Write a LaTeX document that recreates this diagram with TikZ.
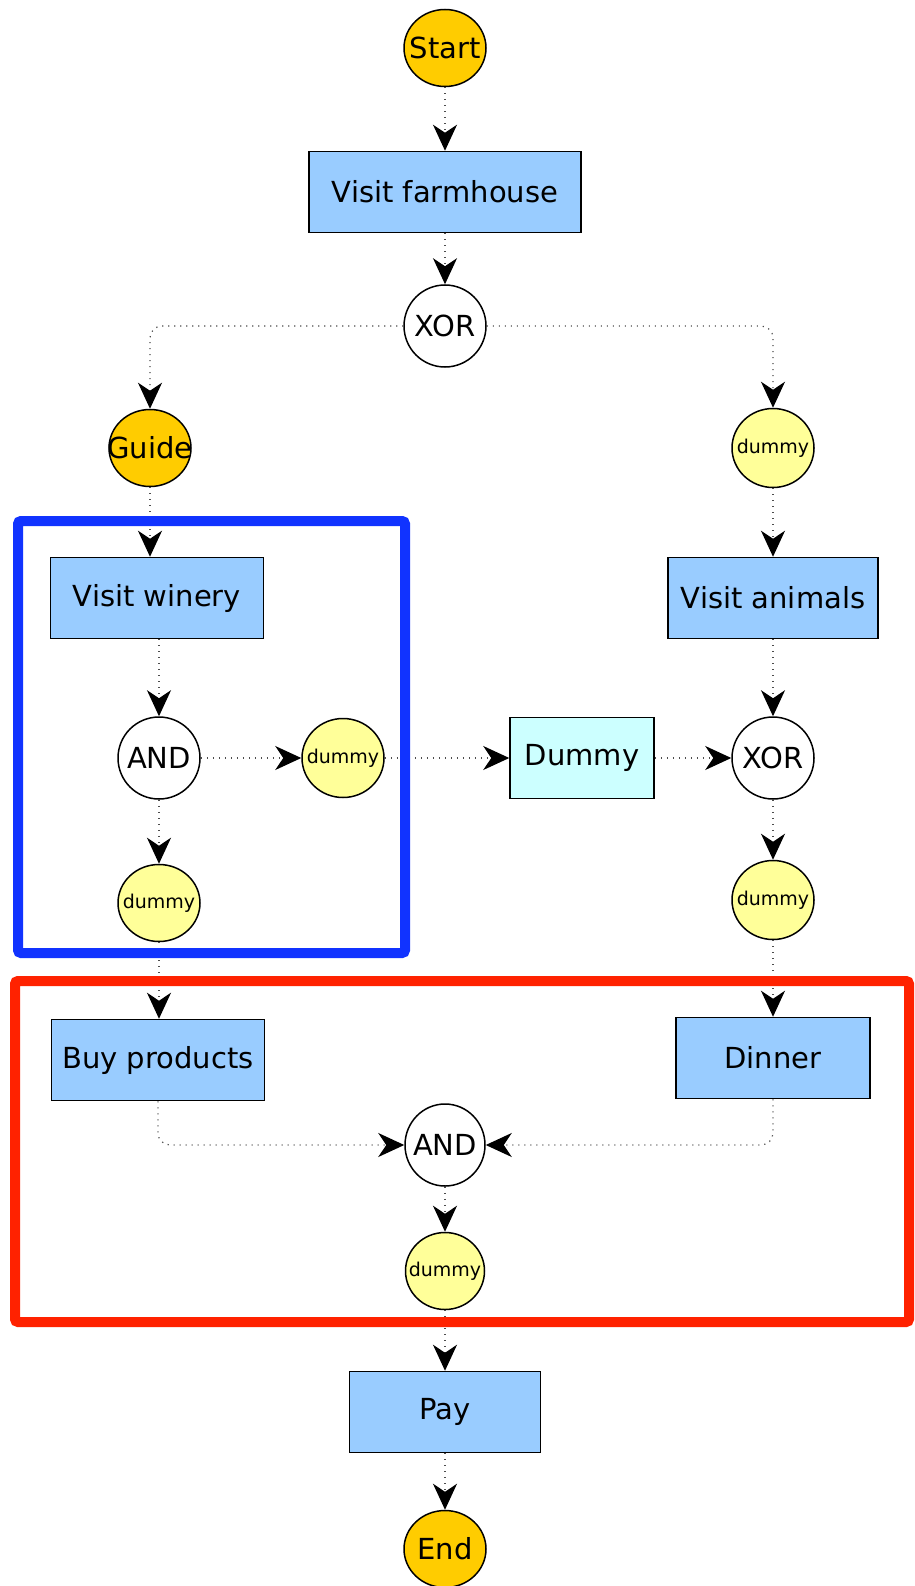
\documentclass[tikz,border=0pt]{standalone}
\usepackage{fontspec}
\setmainfont{DejaVu Sans}
\definecolor{TaskBlue}{RGB}{153, 204, 255}
\definecolor{DummyCyan}{RGB}{204, 255, 255}
\definecolor{EventGold}{RGB}{255, 204, 0}
\definecolor{DummyYellow}{RGB}{255, 255, 153}
\definecolor{FrameBlue}{RGB}{17, 51, 255}
\definecolor{FrameRed}{RGB}{255, 34, 0}
\usetikzlibrary{arrows.meta, positioning, shapes.geometric}
\newcommand{\centred}[1]{\makebox[0pt]{#1}}

\begin{document}
\begin{tikzpicture}[x=1pt, y=-1pt,
    task/.style={draw, line width=1.5pt, fill=TaskBlue, minimum width=#1,
      minimum height=81pt, inner sep=0pt, font=\fontsize{29}{34}\selectfont},
    evt/.style={ellipse, draw, line width=1.5pt, minimum width=82pt,
      minimum height=79pt, inner sep=0pt, font=\fontsize{29}{34}\selectfont},
    gate/.style={evt, fill=white, minimum height=82pt},
    terminal/.style={evt, fill=EventGold, minimum height=77pt},
    dum/.style={evt, fill=DummyYellow, font=\fontsize{19}{22}\selectfont},
    flow/.style={line width=1.2pt, black!70, dash pattern=on 1.2pt off 4.8pt,
      rounded corners=12pt, -{Stealth[length=26pt, width=24pt, inset=8pt, black]}},
    frame/.style={line width=10pt, rounded corners=3pt}
  ]
  \useasboundingbox (0,0) rectangle (914,1586);

  \node[terminal] (start) at (445,48) {\centred{Start}};
  \node[task=272pt] (farm) at (445,192) {Visit farmhouse};
  \node[gate] (xorTop) at (445,326) {\centred{XOR}};
  \node[terminal] (guide) at (150,448) {\centred{Guide}};
  \node[dum] (dumTop) at (773,448) {\centred{dummy}};
  \node[task=213pt] (winery) at (157,598) {Visit winery};
  \node[task=210pt] (animals) at (773,598) {Visit animals};
  \node[gate] (andLeft) at (159,758) {\centred{AND}};
  \node[dum] (dumMid) at (343,758) {\centred{dummy}};
  \node[dum, minimum height=77pt] (dumLeft) at (159,903) {\centred{dummy}};
  \node[task=144pt, fill=DummyCyan] (dummyTask) at (582,758) {Dummy};
  \node[gate] (xorRight) at (773,758) {\centred{XOR}};
  \node[dum] (dumRight) at (773,900) {\centred{dummy}};
  \node[task=213pt] (buy) at (158,1060) {Buy products};
  \node[task=194pt] (dinner) at (773,1058) {Dinner};
  \node[gate, minimum width=80pt] (andLow) at (445,1145) {\centred{AND}};
  \node[dum, minimum width=79pt, minimum height=77pt] (dumLow) at (445,1271) {\centred{dummy}};
  \node[task=191pt] (pay) at (445,1412) {Pay};
  \node[terminal] (end) at (445,1549) {\centred{End}};

  \draw[flow] (start) -- (farm);
  \draw[flow] (farm) -- (xorTop);
  \draw[flow] (xorTop) -| (guide);
  \draw[flow] (xorTop) -| (dumTop);
  \draw[flow] (guide) -- (guide |- winery.north);
  \draw[flow] (dumTop) -- (animals);
  \draw[flow] (winery.south -| andLeft) -- (andLeft);
  \draw[flow] (andLeft) -- (dumMid);
  \draw[flow] (andLeft) -- (dumLeft);
  \draw[flow] (dumMid) -- (dummyTask);
  \draw[flow] (dummyTask) -- (xorRight);
  \draw[flow] (animals) -- (xorRight);
  \draw[flow] (xorRight) -- (dumRight);
  \draw[flow] (dumLeft) -- (dumLeft |- buy.north);
  \draw[flow] (dumRight) -- (dinner);
  \draw[flow] (buy) |- (andLow);
  \draw[flow] (dinner) |- (andLow);
  \draw[flow] (andLow) -- (dumLow);
  \draw[flow] (dumLow) -- (pay);
  \draw[flow] (pay) -- (end);

  \draw[frame, FrameBlue] (18,521) rectangle (405,953);
  \draw[frame, FrameRed] (15,981) rectangle (909,1322);
\end{tikzpicture}
\end{document}
